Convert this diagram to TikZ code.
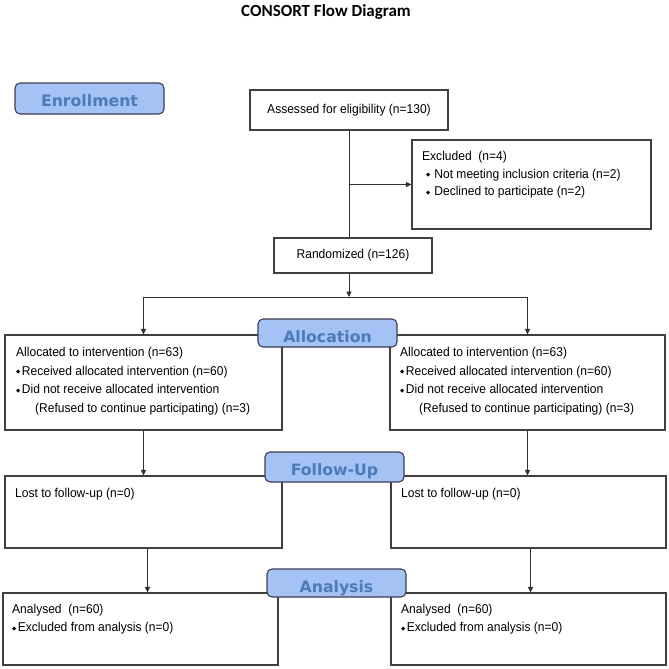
\documentclass[tikz,border=0pt]{standalone}
\usepackage{fontspec}
\setmainfont{Liberation Sans}[FakeStretch=0.94]
\newfontfamily\titlefont{Carlito}
\newfontfamily\labfont{DejaVu Sans}
\newfontfamily\symfont{DejaVu Sans}
\usetikzlibrary{arrows.meta}
\definecolor{labfill}{HTML}{A4C2F4}
\definecolor{labtext}{HTML}{4D7BBA}
\definecolor{labdraw}{HTML}{3C3C50}
\definecolor{boxdraw}{HTML}{404040}
\definecolor{linecol}{HTML}{303030}
\newcommand{\bul}{{\symfont\fontsize{5.5}{5.5}\selectfont\raisebox{1.3pt}{◆}}}
\tikzset{
  box/.style={draw=boxdraw, line width=1.1pt, fill=white, inner sep=0pt},
  txt/.style={inner sep=0pt, font=\fontsize{12.8}{14}\selectfont},
  lab/.style={draw=labdraw, line width=1.1pt, fill=labfill, rounded corners=5pt, inner sep=0pt,
    text=labtext, font=\labfont\bfseries\fontsize{15.7}{16}\selectfont},
  arr/.style={draw=linecol, line width=0.9pt, -{Triangle[length=5.5pt,width=5pt]}},
  conn/.style={draw=linecol, line width=0.9pt}
}
\begin{document}
\begin{tikzpicture}[x=1pt,y=-1pt]
\useasboundingbox[fill=white] (0,0) rectangle (669,669);
\node[font=\titlefont\bfseries\fontsize{17}{20}\selectfont, inner sep=0pt] (title) at (326,12) {CONSORT Flow Diagram};

% boxes
\node[box, minimum width=198pt, minimum height=40pt, font=\fontsize{12.8}{14}\selectfont] (assess) at (349,110) {Assessed for eligibility (n=130)};
\node[box, minimum width=239pt, minimum height=89pt] (excl) at (531.5,184.5) {};
\node[box, minimum width=158pt, minimum height=35pt, font=\fontsize{12.8}{14}\selectfont] (rand) at (353,255.5) {Randomized (n=126)};
\node[box, minimum width=277pt, minimum height=95pt] (allocL) at (143.5,382.5) {};
\node[box, minimum width=275pt, minimum height=95pt] (allocR) at (527.5,382.5) {};
\node[box, minimum width=277pt, minimum height=72pt] (lostL) at (143.5,512) {};
\node[box, minimum width=275pt, minimum height=72pt] (lostR) at (528.5,512) {};
\node[box, minimum width=275pt, minimum height=72pt] (analL) at (140.5,629) {};
\node[box, minimum width=275pt, minimum height=72pt] (analR) at (528.5,629) {};

% texts in boxes
\node[txt, anchor=base west] (tExcl) at (422,160.7) {\parbox[t]{225pt}{\setlength{\baselineskip}{17.5pt}Excluded\ \ (n=4)\\
\hspace*{4pt}\bul\hspace{4pt}Not meeting inclusion criteria (n=2)\\
\hspace*{4pt}\bul\hspace{4pt}Declined to participate (n=2)}};
\node[txt, anchor=base west] (tAllocL) at (16,356.7) {\parbox[t]{262pt}{\setlength{\baselineskip}{18.5pt}Allocated to intervention (n=63)\\
\bul\hspace{1.5pt}Received allocated intervention (n=60)\\
\bul\hspace{1.5pt}Did not receive allocated intervention\\
\hspace*{19pt}(Refused to continue participating) (n=3)}};
\node[txt, anchor=base west] (tAllocR) at (400,356.7) {\parbox[t]{262pt}{\setlength{\baselineskip}{18.5pt}Allocated to intervention (n=63)\\
\bul\hspace{1.5pt}Received allocated intervention (n=60)\\
\bul\hspace{1.5pt}Did not receive allocated intervention\\
\hspace*{19pt}(Refused to continue participating) (n=3)}};
\node[txt, anchor=base west] (tLostL) at (15,497.3) {Lost to follow-up (n=0)};
\node[txt, anchor=base west] (tLostR) at (401,497.3) {Lost to follow-up (n=0)};
\node[txt, anchor=base west] (tAnalL) at (12,613.3) {\parbox[t]{262pt}{\setlength{\baselineskip}{18.4pt}Analysed\ \ (n=60)\\
\bul\hspace{1.5pt}Excluded from analysis (n=0)}};
\node[txt, anchor=base west] (tAnalR) at (401,613.3) {\parbox[t]{262pt}{\setlength{\baselineskip}{18.4pt}Analysed\ \ (n=60)\\
\bul\hspace{1.5pt}Excluded from analysis (n=0)}};

% connectors
\coordinate (split) at (349,297);
\draw[conn] (assess.south) -- (assess.south |- rand.north);
\draw[arr] (assess.south |- excl.west) -- (excl.west);
\draw[arr] (assess.south |- rand.south) -- (split);
\draw[arr] (split) -| (allocL.north);
\draw[arr] (split) -| (allocR.north);
\draw[arr] (allocL.south) -- (lostL.north);
\draw[arr] (allocR.south) -- (allocR.south |- lostR.north);
\draw[arr] ([xshift=4pt]lostL.south) -- ([xshift=4pt]lostL.south |- analL.north);
\draw[arr] ([xshift=2pt]lostR.south) -- ([xshift=2pt]lostR.south |- analR.north);

% stage labels
\node[lab, minimum width=149pt, text height=23.7pt, text depth=7.3pt] (enr) at (89.5,98.5) {Enrollment};
\node[lab, minimum width=139pt, text height=23.3pt, text depth=4.7pt] (allocLab) at (327.5,333) {Allocation};
\node[lab, minimum width=139pt, text height=23.7pt, text depth=6.3pt] (fuLab) at (334.5,467) {Follow-Up};
\node[lab, minimum width=139pt, text height=23.7pt, text depth=4.3pt] (anLab) at (336.5,583) {Analysis};
\end{tikzpicture}
\end{document}
